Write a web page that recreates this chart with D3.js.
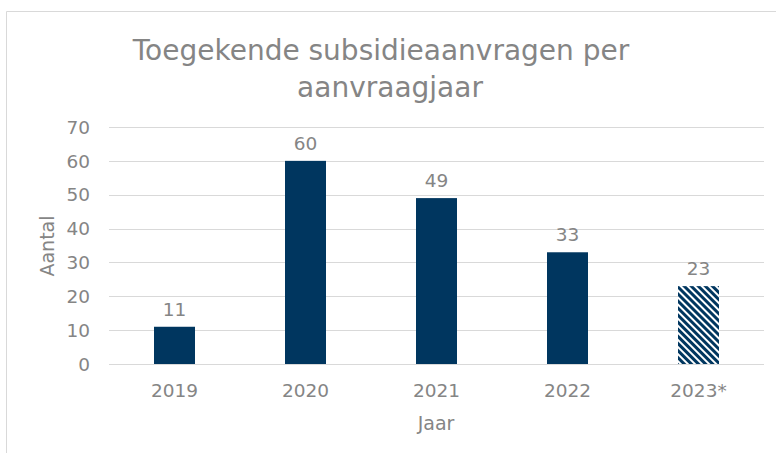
<!DOCTYPE html>
<html>
<head>
<meta charset="utf-8">
<script src="https://cdn.jsdelivr.net/npm/d3@7.9.0/dist/d3.min.js"></script>
<style>
  html, body { margin: 0; padding: 0; background: #fff; }
  svg { display: block; font-family: Verdana, "DejaVu Sans", sans-serif; }
</style>
</head>
<body>
<svg id="chart" width="776" height="453"></svg>
<script>
// data
const years = ['2019', '2020', '2021', '2022', '2023*'];
const counts = [11, 60, 49, 33, 23];
const hatched = [false, false, false, false, true];
const yTicks = [0, 10, 20, 30, 40, 50, 60, 70];

const navy = '#00365f';
const grey = '#858585';

const svg = d3.select('#chart');

// chart-area border (only top and left visible)
svg.append('path')
  .attr('d', 'M6.5,453 V11.5 H776')
  .attr('fill', 'none')
  .attr('stroke', '#d9d9d9')
  .attr('stroke-width', 1);

// hatch pattern for the incomplete year
const defs = svg.append('defs');
const pat = defs.append('pattern')
  .attr('id', 'hatch')
  .attr('patternUnits', 'userSpaceOnUse')
  .attr('width', 5)
  .attr('height', 5)
  .attr('patternTransform', 'rotate(-45)');
pat.append('rect').attr('width', 5).attr('height', 5).attr('fill', '#fff');
pat.append('rect').attr('width', 3).attr('height', 5).attr('fill', navy);

const x = d3.scaleBand()
  .domain(years)
  .range([109, 764])
  .paddingInner(0.687)
  .paddingOuter(0.3435);

const y = d3.scaleLinear()
  .domain([0, 70])
  .range([364, 127]);

// gridlines
svg.append('g')
  .selectAll('line')
  .data(yTicks)
  .join('line')
  .attr('x1', 109)
  .attr('x2', 764)
  .attr('y1', d => Math.round(y(d)) + 0.5)
  .attr('y2', d => Math.round(y(d)) + 0.5)
  .attr('stroke', '#d9d9d9')
  .attr('stroke-width', 1);

// y tick labels
svg.append('g')
  .selectAll('text')
  .data(yTicks)
  .join('text')
  .attr('x', 90)
  .attr('y', d => y(d))
  .attr('dy', '0.36em')
  .attr('text-anchor', 'end')
  .attr('font-size', 18.5)
  .attr('fill', grey)
  .text(d => d);

// bars
svg.append('g')
  .selectAll('rect')
  .data(years)
  .join('rect')
  .attr('x', d => x(d))
  .attr('width', x.bandwidth())
  .attr('y', (d, i) => y(counts[i]))
  .attr('height', (d, i) => y(0) - y(counts[i]))
  .attr('fill', (d, i) => hatched[i] ? 'url(#hatch)' : navy);

// value labels
svg.append('g')
  .selectAll('text')
  .data(years)
  .join('text')
  .attr('x', d => x(d) + x.bandwidth() / 2)
  .attr('y', (d, i) => y(counts[i]) - 11)
  .attr('text-anchor', 'middle')
  .attr('font-size', 18.5)
  .attr('fill', grey)
  .text((d, i) => counts[i]);

// x tick labels
svg.append('g')
  .selectAll('text')
  .data(years)
  .join('text')
  .attr('x', d => x(d) + x.bandwidth() / 2)
  .attr('y', 397)
  .attr('text-anchor', 'middle')
  .attr('font-size', 18.5)
  .attr('fill', grey)
  .text(d => d);

// axis titles
svg.append('text')
  .attr('x', 436)
  .attr('y', 430)
  .attr('text-anchor', 'middle')
  .attr('font-size', 19)
  .attr('fill', grey)
  .text('Jaar');

svg.append('text')
  .attr('transform', 'translate(54,246) rotate(-90)')
  .attr('text-anchor', 'middle')
  .attr('font-size', 19)
  .attr('fill', grey)
  .text('Aantal');

// title
const title = svg.append('text')
  .attr('text-anchor', 'middle')
  .attr('font-size', 28)
  .attr('fill', grey);
title.append('tspan').attr('x', 381).attr('y', 60).text('Toegekende subsidieaanvragen per');
title.append('tspan').attr('x', 390).attr('y', 97).text('aanvraagjaar');
</script>
</body>
</html>
